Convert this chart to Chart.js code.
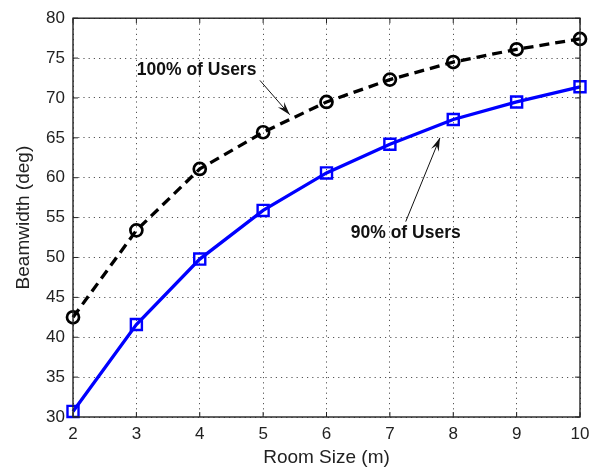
<!DOCTYPE html>
<html>
<head>
<meta charset="utf-8">
<script src="https://cdn.jsdelivr.net/npm/chart.js@4"></script>
<style>
  html, body { margin: 0; padding: 0; background: #fff; }
  #wrap { width: 602px; height: 474px; }
</style>
</head>
<body>
<div id="wrap"><canvas id="beamChart" width="602" height="474"></canvas></div>
<script>
const roomSizes = [2, 3, 4, 5, 6, 7, 8, 9, 10];
const users100 = [42.5, 53.4, 61.1, 65.7, 69.5, 72.3, 74.5, 76.1, 77.4];
const users90 = [30.7, 41.6, 49.8, 55.9, 60.6, 64.2, 67.3, 69.5, 71.4];
const xTicks = [2, 3, 4, 5, 6, 7, 8, 9, 10];
const yTicks = [30, 35, 40, 45, 50, 55, 60, 65, 70, 75, 80];

// annotation text + arrow (data units)
const notes = [
    { text: '100% of Users', at: [3.95, 73.5], from: [4.95, 72.2], to: [5.42, 67.9] },
    { text: '90% of Users', at: [7.25, 53.0], from: [7.25, 54.5], to: [7.79, 65.0] }
];

const FONT = '"Liberation Sans", Arial, sans-serif';

function toPoints(xs, ys) {
    return xs.map((x, i) => ({ x: x, y: ys[i] }));
}

const boxPlugin = {
    id: 'box',
    afterDraw(chart) {
        const ctx = chart.ctx;
        const a = chart.chartArea;
        const xs = chart.scales.x, ys = chart.scales.y;
        ctx.save();
        ctx.strokeStyle = '#222';
        ctx.lineWidth = 1.4;
        ctx.strokeRect(a.left, a.top, a.right - a.left, a.bottom - a.top);
        ctx.lineWidth = 1;
        ctx.beginPath();
        xTicks.forEach(v => {
            const px = xs.getPixelForValue(v);
            ctx.moveTo(px, a.bottom); ctx.lineTo(px, a.bottom - 5);
            ctx.moveTo(px, a.top); ctx.lineTo(px, a.top + 5);
        });
        yTicks.forEach(v => {
            const py = ys.getPixelForValue(v);
            ctx.moveTo(a.left, py); ctx.lineTo(a.left + 5, py);
            ctx.moveTo(a.right, py); ctx.lineTo(a.right - 5, py);
        });
        ctx.stroke();

        // annotations
        ctx.fillStyle = '#111';
        ctx.strokeStyle = '#111';
        ctx.font = 'bold 17.5px ' + FONT;
        ctx.textAlign = 'center';
        ctx.textBaseline = 'middle';
        notes.forEach(n => {
            ctx.fillText(n.text, xs.getPixelForValue(n.at[0]), ys.getPixelForValue(n.at[1]));
            const x1 = xs.getPixelForValue(n.from[0]), y1 = ys.getPixelForValue(n.from[1]);
            const x2 = xs.getPixelForValue(n.to[0]), y2 = ys.getPixelForValue(n.to[1]);
            const ang = Math.atan2(y2 - y1, x2 - x1);
            ctx.lineWidth = 1;
            ctx.beginPath();
            ctx.moveTo(x1, y1);
            ctx.lineTo(x2, y2);
            ctx.stroke();
            const len = 14, wing = 0.3;
            ctx.beginPath();
            ctx.moveTo(x2, y2);
            ctx.lineTo(x2 - len * Math.cos(ang - wing), y2 - len * Math.sin(ang - wing));
            ctx.lineTo(x2 - len * 0.6 * Math.cos(ang), y2 - len * 0.6 * Math.sin(ang));
            ctx.lineTo(x2 - len * Math.cos(ang + wing), y2 - len * Math.sin(ang + wing));
            ctx.closePath();
            ctx.fill();
        });
        ctx.restore();
    }
};

const ctx = document.getElementById('beamChart').getContext('2d');
new Chart(ctx, {
    type: 'line',
    data: {
        datasets: [{
            label: '100% of Users',
            data: toPoints(roomSizes, users100),
            borderColor: '#000',
            borderWidth: 3.3,
            borderDash: [10, 6],
            pointStyle: 'circle',
            pointRadius: 6,
            pointBorderWidth: 2.7,
            pointBorderColor: '#000',
            pointBackgroundColor: 'rgba(0,0,0,0)',
            tension: 0,
            clip: false
        }, {
            label: '90% of Users',
            data: toPoints(roomSizes, users90),
            borderColor: '#0000ff',
            borderWidth: 3.3,
            pointStyle: 'rect',
            pointRadius: 7.8,
            pointBorderWidth: 2.4,
            pointBorderColor: '#0000ff',
            pointBackgroundColor: 'rgba(0,0,0,0)',
            tension: 0,
            clip: false
        }]
    },
    options: {
        responsive: false,
        animation: false,
        layout: { padding: { top: 15, right: 22, left: 0, bottom: 0 } },
        plugins: {
            legend: { display: false },
            tooltip: { enabled: false }
        },
        scales: {
            x: {
                type: 'linear',
                min: 2,
                max: 10,
                afterBuildTicks: s => { s.ticks = xTicks.map(v => ({ value: v })); },
                afterFit: s => { s.height = 57; },
                grid: { color: '#555', lineWidth: 1, drawTicks: false },
                border: { display: false, dash: [1.2, 4] },
                ticks: { color: '#222', padding: 7, font: { family: FONT, size: 17 }, maxRotation: 0 },
                title: {
                    display: true,
                    text: 'Room Size (m)',
                    color: '#222',
                    font: { family: FONT, size: 19 },
                    padding: { top: 0, bottom: 5 }
                }
            },
            y: {
                min: 30,
                max: 80,
                afterBuildTicks: s => { s.ticks = yTicks.map(v => ({ value: v })); },
                afterFit: s => { s.width = 73; },
                grid: { color: '#555', lineWidth: 1, drawTicks: false },
                border: { display: false, dash: [1.2, 4] },
                ticks: { color: '#222', padding: 8, font: { family: FONT, size: 17 } },
                title: {
                    display: true,
                    text: 'Beamwidth (deg)',
                    color: '#222',
                    font: { family: FONT, size: 19 },
                    padding: { top: 12, bottom: 0 }
                }
            }
        }
    },
    plugins: [boxPlugin]
});
</script>
</body>
</html>
